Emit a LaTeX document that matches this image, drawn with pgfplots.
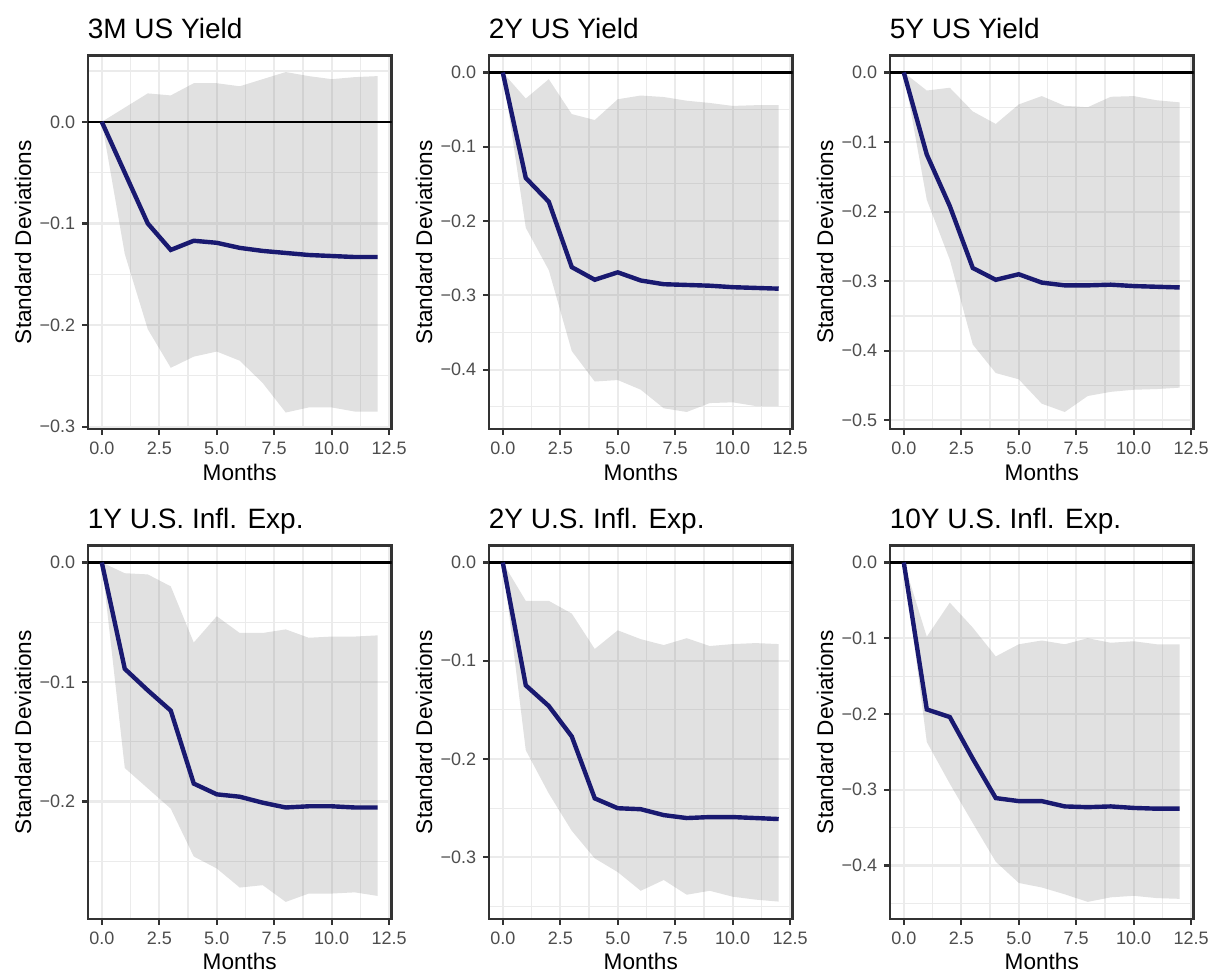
\documentclass[border=0pt]{standalone}
\usepackage{fontspec}
\setmainfont{Liberation Sans}
\usepackage{pgfplots}
\usepackage{pgfplotstable}
\pgfplotsset{compat=1.18}
\usepgfplotslibrary{fillbetween}

\definecolor{navyl}{RGB}{25,25,112}
\definecolor{gridc}{RGB}{235,235,235}
\definecolor{borderc}{RGB}{51,51,51}
\definecolor{ticklabc}{RGB}{77,77,77}

\pgfplotstableread{
m lo est hi
0 0 0 0
1 -0.130 -0.050 0.014
2 -0.204 -0.100 0.028
3 -0.242 -0.126 0.026
4 -0.231 -0.117 0.038
5 -0.226 -0.119 0.038
6 -0.235 -0.124 0.035
7 -0.257 -0.127 0.042
8 -0.286 -0.129 0.049
9 -0.281 -0.131 0.045
10 -0.281 -0.132 0.042
11 -0.285 -0.133 0.044
12 -0.285 -0.133 0.045
}\tA
\pgfplotstableread{
m lo est hi
0 0 0 0
1 -0.209 -0.142 -0.035
2 -0.266 -0.174 -0.009
3 -0.375 -0.262 -0.056
4 -0.416 -0.279 -0.064
5 -0.414 -0.269 -0.036
6 -0.427 -0.280 -0.031
7 -0.452 -0.285 -0.033
8 -0.457 -0.286 -0.038
9 -0.445 -0.287 -0.041
10 -0.444 -0.289 -0.045
11 -0.449 -0.290 -0.044
12 -0.449 -0.291 -0.044
}\tB
\pgfplotstableread{
m lo est hi
0 0 0 0
1 -0.183 -0.118 -0.026
2 -0.269 -0.192 -0.022
3 -0.391 -0.281 -0.056
4 -0.432 -0.298 -0.074
5 -0.441 -0.290 -0.046
6 -0.476 -0.302 -0.034
7 -0.488 -0.306 -0.048
8 -0.465 -0.306 -0.050
9 -0.459 -0.305 -0.035
10 -0.456 -0.307 -0.034
11 -0.455 -0.308 -0.040
12 -0.453 -0.309 -0.043
}\tC
\pgfplotstableread{
m lo est hi
0 0 0 0
1 -0.172 -0.089 -0.009
2 -0.189 -0.107 -0.010
3 -0.206 -0.124 -0.020
4 -0.246 -0.185 -0.067
5 -0.256 -0.194 -0.045
6 -0.272 -0.196 -0.059
7 -0.270 -0.201 -0.059
8 -0.284 -0.205 -0.056
9 -0.277 -0.204 -0.063
10 -0.277 -0.204 -0.062
11 -0.276 -0.205 -0.062
12 -0.279 -0.205 -0.061
}\tD
\pgfplotstableread{
m lo est hi
0 0 0 0
1 -0.191 -0.125 -0.039
2 -0.235 -0.146 -0.039
3 -0.273 -0.177 -0.052
4 -0.301 -0.240 -0.088
5 -0.315 -0.250 -0.069
6 -0.334 -0.251 -0.078
7 -0.323 -0.257 -0.084
8 -0.338 -0.260 -0.077
9 -0.334 -0.259 -0.085
10 -0.340 -0.259 -0.083
11 -0.343 -0.260 -0.082
12 -0.345 -0.261 -0.083
}\tE
\pgfplotstableread{
m lo est hi
0 0 0 0
1 -0.237 -0.194 -0.098
2 -0.292 -0.204 -0.053
3 -0.344 -0.259 -0.086
4 -0.395 -0.311 -0.124
5 -0.423 -0.315 -0.108
6 -0.429 -0.315 -0.103
7 -0.438 -0.322 -0.108
8 -0.448 -0.323 -0.100
9 -0.442 -0.322 -0.106
10 -0.440 -0.324 -0.104
11 -0.443 -0.325 -0.108
12 -0.444 -0.325 -0.108
}\tF

\pgfplotsset{
 every axis title shift=0pt,
 irf/.style={
  scale only axis, width=151.75bp, height=186.75bp,
  xmin=-0.6, xmax=12.6,
  xtick={0,2.5,5,7.5,10,12.5},
  xticklabels={0.0,2.5,5.0,7.5,10.0,12.5},
  minor xtick={1.25,3.75,6.25,8.75,11.25},
  grid=both,
  major grid style={line width=1.1bp, color=gridc},
  minor grid style={line width=0.55bp, color=gridc},
  axis line style={line width=1.1bp, color=borderc},
  tick style={line width=1.1bp, color=borderc},
  major tick length=2.9bp, minor tick length=0pt,
  tick align=outside, tick pos=left,
  ticklabel style={font=\fontsize{9bp}{10bp}\selectfont, color=ticklabc},
  xlabel={Months}, ylabel={Standard Deviations},
  label style={font=\fontsize{11.3bp}{13bp}\selectfont},
  xlabel style={at={([yshift=-26bp]axis description cs:0.5,0)}, anchor=base},
  ylabel style={at={([xshift=-28.5bp]axis description cs:0,0.5)}, anchor=base},
  title style={at={([xshift=-0.3bp,yshift=8.5bp]axis description cs:0,1)}, anchor=base west, inner sep=0pt, font=\fontsize{14bp}{16bp}\selectfont},
 },
 lowrow/.style={xlabel style={at={([yshift=-25bp]axis description cs:0.5,0)}}},
 band/.style={fill=black!50, fill opacity=0.24, draw=none},
 est/.style={navyl, line width=2.2bp},
 zero/.style={black, line width=1.1bp},
}

\newcommand{\panelbody}[1]{%
  \addplot[draw=none, name path=hi] table[x=m,y=hi]{#1};
  \addplot[draw=none, name path=lo] table[x=m,y=lo]{#1};
  \addplot[band] fill between[of=hi and lo];
  \addplot[zero] coordinates {(-0.6,0) (12.6,0)};
  \addplot[est] table[x=m,y=est]{#1};
}

\begin{document}
\begin{tikzpicture}
\path (0,0) rectangle (604.5bp,486bp);

\begin{axis}[irf, at={(44bp,271.5bp)}, title={3M US Yield},
  ymin=-0.3022, ymax=0.0653,
  ytick={-0.3,-0.2,-0.1,0},
  yticklabels={−0.3,−0.2,−0.1,0.0},
  minor ytick={-0.25,-0.15,-0.05,0.05}]
\panelbody{\tA}
\end{axis}

\begin{axis}[irf, at={(244.5bp,271.5bp)}, title={2Y US Yield},
  ymin=-0.4799, ymax=0.0229,
  ytick={-0.4,-0.3,-0.2,-0.1,0},
  yticklabels={−0.4,−0.3,−0.2,−0.1,0.0},
  minor ytick={-0.45,-0.35,-0.25,-0.15,-0.05}]
\panelbody{\tB}
\end{axis}

\begin{axis}[irf, at={(445bp,271.5bp)}, title={5Y US Yield},
  ymin=-0.5124, ymax=0.0244,
  ytick={-0.5,-0.4,-0.3,-0.2,-0.1,0},
  yticklabels={−0.5,−0.4,−0.3,−0.2,−0.1,0.0},
  minor ytick={-0.45,-0.35,-0.25,-0.15,-0.05}]
\panelbody{\tC}
\end{axis}

\begin{axis}[irf, lowrow, at={(44bp,26.5bp)}, title={1Y U.S. Infl. Exp.},
  ymin=-0.2983, ymax=0.0142,
  ytick={-0.2,-0.1,0},
  yticklabels={−0.2,−0.1,0.0},
  minor ytick={-0.25,-0.15,-0.05}]
\panelbody{\tD}
\end{axis}

\begin{axis}[irf, lowrow, at={(244.5bp,26.5bp)}, title={2Y U.S. Infl. Exp.},
  ymin=-0.3627, ymax=0.0173,
  ytick={-0.3,-0.2,-0.1,0},
  yticklabels={−0.3,−0.2,−0.1,0.0},
  minor ytick={-0.35,-0.25,-0.15,-0.05}]
\panelbody{\tE}
\end{axis}

\begin{axis}[irf, lowrow, at={(445bp,26.5bp)}, title={10Y U.S. Infl. Exp.},
  ymin=-0.4706, ymax=0.0224,
  ytick={-0.4,-0.3,-0.2,-0.1,0},
  yticklabels={−0.4,−0.3,−0.2,−0.1,0.0},
  minor ytick={-0.45,-0.35,-0.25,-0.15,-0.05}]
\panelbody{\tF}
\end{axis}
\pgfresetboundingbox
\useasboundingbox (0,0) rectangle (604.5bp,486bp);
\end{tikzpicture}
\end{document}
